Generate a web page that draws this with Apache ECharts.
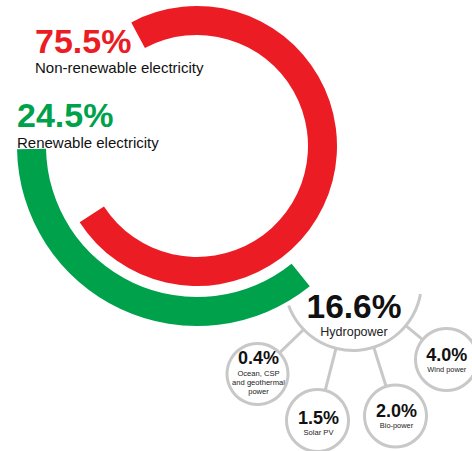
<!DOCTYPE html>
<html>
<head>
<meta charset="utf-8">
<script src="https://cdn.jsdelivr.net/npm/echarts@6/dist/echarts.min.js"></script>
<style>
  html, body { margin: 0; padding: 0; background: #ffffff; }
  #chart { width: 472px; height: 451px; }
</style>
</head>
<body>
<div id="chart"></div>
<script>
// ---------- data ----------
const mainLabels = ['Non-renewable electricity', 'Renewable electricity'];
const mainShares = [75.5, 24.5];
// length of each drawn ring, as % of a full turn, as measured in the picture
const mainArcSweep = [73.6, 35.5];
const renewableLabels = ['Hydropower', 'Ocean, CSP\nand geothermal\npower', 'Solar PV', 'Bio-power', 'Wind power'];
const renewableShares = [16.6, 0.4, 1.5, 2.0, 4.0];

// ---------- layout & style ----------
const FONT = '"Liberation Sans", Arial, Helvetica, sans-serif';
const RED = '#ec1c24';
const GREEN = '#00a14b';
const GRAY = '#c8c8c8';
const ringCenter = [197, 146];
const ringRadii = [[111, 140], [151, 180]];
const ringStart = [118, 181];
const ringClockwise = [true, false];
const ringColors = [RED, GREEN];
const mainLabelPos = [[35, 40.5, 67.5], [17, 114.5, 142]];

// bubbles: [cx, cy, outer radius]
const bubbles = [
  [353, 282, 70],
  [257.5, 374, 32],
  [317.5, 420.5, 32.5],
  [395.5, 416, 32.5],
  [446.5, 359.5, 32.5]
];
const stroke = 3;
// text offsets relative to bubble centre: [dx, valueDy, firstSubDy, subLineGap, valueSize, subSize]
const bubbleText = [
  [1, 24, 50, 0, 33.5, 12.5],
  [1, -15.8, -1, 9, 18, 7.6],
  [1, -3, 11.8, 9, 18, 7.6],
  [1, -5.3, 9.7, 9, 18, 7.4],
  [0.3, -4.3, 10.4, 9, 18, 7.4]
];

const fmt = v => v.toFixed(1) + '%';

const series = [];

// Hydropower partial ring (lower part only)
series.push({
  type: 'pie', silent: true, animation: false,
  center: [bubbles[0][0], bubbles[0][1]],
  radius: [bubbles[0][2] - stroke, bubbles[0][2]],
  startAngle: 200, clockwise: false,
  label: { show: false }, labelLine: { show: false },
  itemStyle: { borderWidth: 0 },
  data: [
    { value: 150, itemStyle: { color: GRAY } },
    { value: 210, itemStyle: { color: 'transparent' } }
  ]
});
// small bubbles, full rings
for (let i = 1; i < bubbles.length; i++) {
  series.push({
    type: 'pie', silent: true, animation: false,
    center: [bubbles[i][0], bubbles[i][1]],
    radius: [bubbles[i][2] - stroke, bubbles[i][2]],
    label: { show: false }, labelLine: { show: false },
    itemStyle: { borderWidth: 0, color: GRAY },
    data: [{ value: renewableShares[i] }]
  });
}
// main rings
for (let i = 0; i < 2; i++) {
  series.push({
    type: 'pie', silent: true, animation: false,
    center: ringCenter,
    radius: ringRadii[i],
    startAngle: ringStart[i], clockwise: ringClockwise[i],
    label: { show: false }, labelLine: { show: false },
    itemStyle: { borderWidth: 0 },
    data: [
      { name: mainLabels[i], value: mainArcSweep[i], itemStyle: { color: ringColors[i] } },
      { value: 100 - mainArcSweep[i], itemStyle: { color: 'transparent' } }
    ]
  });
}

const graphic = [];
function txt(text, x, y, size, bold, color, align) {
  graphic.push({
    type: 'text', silent: true,
    style: {
      text: text, x: x, y: y,
      font: (bold ? 'bold ' : '') + size + 'px ' + FONT,
      fill: color,
      textAlign: align, align: align,
      textVerticalAlign: 'middle', verticalAlign: 'middle'
    }
  });
}
// connectors from hydropower ring to each small bubble
const h = bubbles[0];
for (let i = 1; i < bubbles.length; i++) {
  const b = bubbles[i];
  const dx = b[0] - h[0], dy = b[1] - h[1];
  const d = Math.sqrt(dx * dx + dy * dy);
  const ux = dx / d, uy = dy / d;
  const r0 = h[2] - stroke / 2, r1 = b[2] - stroke / 2;
  graphic.push({
    type: 'line', silent: true,
    shape: { x1: h[0] + ux * r0, y1: h[1] + uy * r0, x2: b[0] - ux * r1, y2: b[1] - uy * r1 },
    style: { stroke: GRAY, lineWidth: stroke }
  });
}
// main labels
for (let i = 0; i < 2; i++) {
  const p = mainLabelPos[i];
  txt(fmt(mainShares[i]), p[0], p[1], 34, true, ringColors[i], 'left');
  txt(mainLabels[i], p[0], p[2], 15, false, '#111111', 'left');
}
// bubble labels
for (let i = 0; i < bubbles.length; i++) {
  const b = bubbles[i], t = bubbleText[i];
  const x = b[0] + t[0];
  txt(fmt(renewableShares[i]), x, b[1] + t[1], t[4], true, '#111111', 'center');
  const lines = renewableLabels[i].split('\n');
  lines.forEach((ln, k) => {
    txt(ln, x, b[1] + t[2] + k * t[3], t[5], false, '#222222', 'center');
  });
}

const chart = echarts.init(document.getElementById('chart'), null, { renderer: 'svg' });
chart.setOption({
  backgroundColor: '#ffffff',
  animation: false,
  series: series,
  graphic: graphic
});
</script>
</body>
</html>
